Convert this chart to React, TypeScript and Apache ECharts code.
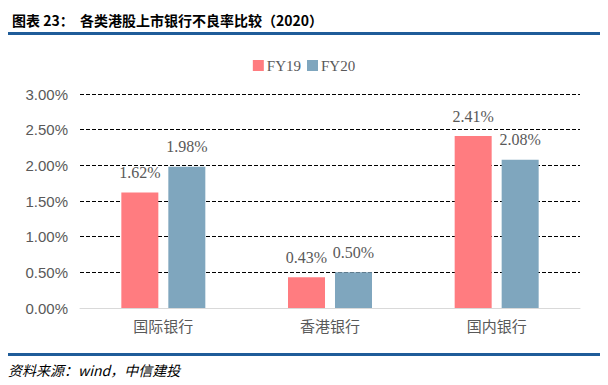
import React, { useEffect, useRef } from "react";
import * as echarts from "echarts";

const categories = ["国际银行", "香港银行", "国内银行"];
const fy19 = [1.62, 0.43, 2.41];
const fy20 = [1.98, 0.5, 2.08];
const yTicks = [0, 0.5, 1, 1.5, 2, 2.5, 3];
const seriesNames = ["FY19", "FY20"];
const titleText = "图表 23：  各类港股上市银行不良率比较（2020）";
const sourceText = "资料来源：wind，中信建投";

export default function App() {
  const ref = useRef<HTMLDivElement>(null);
  useEffect(() => {
    if (!ref.current) return;
    const chart = echarts.init(ref.current, undefined, { renderer: "svg" });
    const labelStyle = {
      show: true,
      position: "top" as const,
      distance: 12,
      formatter: (p: any) => p.value.toFixed(2) + "%",
      fontFamily: "'Liberation Serif', serif",
      fontSize: 16,
      color: "#595959",
    };
    chart.setOption({
      animation: false,
      title: {
        text: titleText,
        left: 7,
        top: 8,
        textStyle: {
          fontFamily: "'Noto Sans CJK SC', sans-serif",
          fontWeight: "bold",
          fontSize: 14,
          color: "#000",
        },
      },
      legend: {
        data: seriesNames,
        top: 53,
        left: "center",
        itemWidth: 11,
        itemHeight: 11,
        itemGap: 6,
        icon: "rect",
        textStyle: {
          fontFamily: "'Liberation Serif', serif",
          fontSize: 15,
          color: "#595959",
          padding: [0, 0, 0, -2],
        },
      },
      grid: { left: 80, right: 28, top: 94, bottom: 77 },
      xAxis: {
        type: "category",
        data: categories,
        axisTick: { show: false },
        axisLine: { lineStyle: { color: "#D9D9D9", width: 1 } },
        axisLabel: {
          fontFamily: "'Noto Sans CJK SC', sans-serif",
          fontSize: 15,
          color: "#595959",
          margin: 10,
        },
      },
      yAxis: {
        type: "value",
        min: yTicks[0],
        max: yTicks[yTicks.length - 1],
        interval: 0.5,
        axisLine: { show: false },
        axisTick: { show: false },
        axisLabel: {
          formatter: (v: number) => v.toFixed(2) + "%",
          fontFamily: "'Liberation Sans', Arial, sans-serif",
          fontSize: 15,
          color: "#595959",
          margin: 12,
        },
        splitLine: { lineStyle: { color: "#000", type: [4, 2], width: 1 } },
      },
      series: [
        {
          name: seriesNames[0],
          type: "bar",
          data: fy19,
          barWidth: 37,
          barGap: "27%",
          itemStyle: { color: "#FF7C80" },
          label: labelStyle,
        },
        {
          name: seriesNames[1],
          type: "bar",
          data: fy20,
          barWidth: 37,
          itemStyle: { color: "#7FA6BE" },
          label: labelStyle,
        },
      ],
      graphic: [
        { type: "rect", shape: { x: 8, y: 32, width: 592, height: 3 }, style: { fill: "#1F5C99" } },
        { type: "rect", shape: { x: 8, y: 353, width: 592, height: 3 }, style: { fill: "#1F5C99" } },
        {
          type: "text",
          x: 8,
          y: 363,
          style: {
            text: sourceText,
            fontFamily: "'Noto Sans CJK SC', sans-serif",
            fontStyle: "italic",
            fontSize: 14,
            fill: "#000",
          },
        },
      ],
    });
    return () => chart.dispose();
  }, []);
  return (
    <div
      ref={ref}
      style={{ position: "absolute", left: 0, top: 0, width: 608, height: 385, background: "#fff" }}
    />
  );
}
